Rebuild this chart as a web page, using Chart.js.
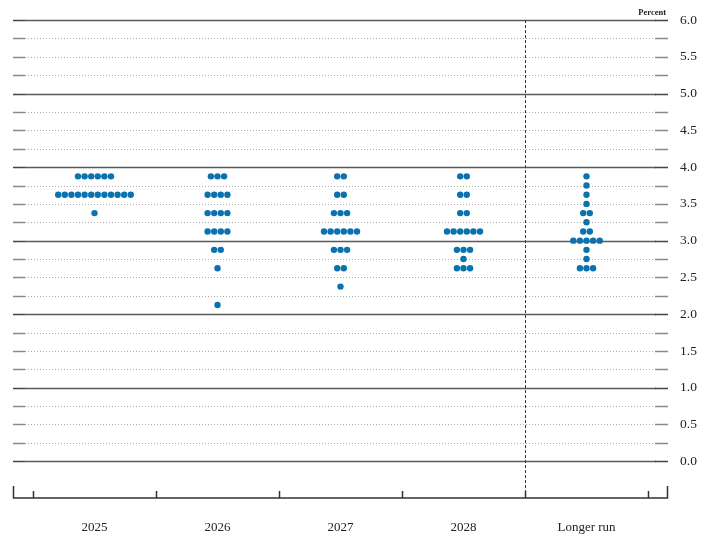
<!DOCTYPE html>
<html>
<head>
<meta charset="utf-8">
<script src="https://cdn.jsdelivr.net/npm/chart.js@4"></script>
<style>
  html, body { margin: 0; padding: 0; background: #fff; }
  #wrap { width: 708px; height: 560px; }
</style>
</head>
<body>
<div id="wrap"><canvas id="dot-plot"></canvas></div>
<script>
// FOMC participants' assessments of appropriate policy rate (midpoints)
const categories = ['2025', '2026', '2027', '2028', 'Longer run'];

const rates2025 = [3.875, 3.625, 3.375];
const counts2025 = [6, 12, 1];

const rates2026 = [3.875, 3.625, 3.375, 3.125, 2.875, 2.625, 2.125];
const counts2026 = [3, 4, 4, 4, 2, 1, 1];

const rates2027 = [3.875, 3.625, 3.375, 3.125, 2.875, 2.625, 2.375];
const counts2027 = [2, 2, 3, 6, 3, 2, 1];

const rates2028 = [3.875, 3.625, 3.375, 3.125, 2.875, 2.75, 2.625];
const counts2028 = [2, 2, 2, 6, 3, 1, 3];

const ratesLonger = [3.875, 3.75, 3.625, 3.5, 3.375, 3.25, 3.125, 3.0, 2.875, 2.75, 2.625];
const countsLonger = [1, 1, 1, 1, 2, 1, 2, 5, 1, 1, 3];

const yTicks = [0, 0.25, 0.5, 0.75, 1, 1.25, 1.5, 1.75, 2, 2.25, 2.5, 2.75, 3, 3.25, 3.5, 3.75,
                4, 4.25, 4.5, 4.75, 5, 5.25, 5.5, 5.75, 6];

const allRates = [rates2025, rates2026, rates2027, rates2028, ratesLonger];
const allCounts = [counts2025, counts2026, counts2027, counts2028, countsLonger];

// spread the dots of one rate side by side around the category centre
const dotGap = 6.6 / 123;
const points = [];
allRates.forEach((rates, i) => {
  rates.forEach((r, k) => {
    const n = allCounts[i][k];
    for (let j = 0; j < n; j++) {
      points.push({ x: i + 0.5 + (j - (n - 1) / 2) * dotGap, y: r });
    }
  });
});

const serif = "'Liberation Serif', 'Times New Roman', serif";

// grid lines, bottom axis and the longer-run divider
const framePlugin = {
  id: 'frame',
  beforeDatasetsDraw(chart) {
    const { ctx, chartArea } = chart;
    const xs = chart.scales.x, ys = chart.scales.y;
    const L = chartArea.left, R = chartArea.right, B = chartArea.bottom, T = chartArea.top;
    ctx.save();
    yTicks.forEach(v => {
      const py = Math.round(ys.getPixelForValue(v)) + 0.5;
      const whole = Number.isInteger(v);
      ctx.lineWidth = whole ? 1.3 : 1;
      ctx.strokeStyle = whole ? '#5a5a5a' : '#aaa';
      ctx.setLineDash(whole ? [] : [1, 2]);
      ctx.beginPath();
      ctx.moveTo(L + 12, py); ctx.lineTo(R - 12, py);
      ctx.stroke();
      ctx.setLineDash([]);
      ctx.strokeStyle = whole ? '#444' : '#8a8a8a';
      ctx.lineWidth = 1.6;
      ctx.beginPath();
      ctx.moveTo(L, py); ctx.lineTo(L + 12, py);
      ctx.moveTo(R - 13, py); ctx.lineTo(R, py);
      ctx.stroke();
    });

    // divider before the longer run
    const dx = Math.round(xs.getPixelForValue(4)) + 0.5;
    ctx.strokeStyle = '#333';
    ctx.lineWidth = 1;
    ctx.setLineDash([3, 2]);
    ctx.beginPath();
    ctx.moveTo(dx, T); ctx.lineTo(dx, B);
    ctx.stroke();
    ctx.setLineDash([]);

    // bottom axis with end brackets and category boundary ticks
    ctx.strokeStyle = '#333';
    ctx.lineWidth = 1.5;
    ctx.beginPath();
    ctx.moveTo(L + 0.5, B - 12); ctx.lineTo(L + 0.5, B);
    ctx.lineTo(R - 0.5, B); ctx.lineTo(R - 0.5, B - 12);
    for (let i = 0; i <= categories.length; i++) {
      const px = Math.round(xs.getPixelForValue(i)) + 0.5;
      ctx.moveTo(px, B); ctx.lineTo(px, B - 7);
    }
    ctx.stroke();

    ctx.fillStyle = '#222';
    ctx.font = 'bold 8.5px ' + serif;
    ctx.textAlign = 'right';
    ctx.textBaseline = 'alphabetic';
    ctx.fillText('Percent', R - 2, T - 5);
    ctx.restore();
  }
};

new Chart(document.getElementById('dot-plot'), {
  type: 'scatter',
  data: {
    datasets: [{
      data: points,
      backgroundColor: '#0a73ae',
      borderColor: '#0a73ae',
      borderWidth: 0,
      pointRadius: 3.2,
      pointHoverRadius: 3.2
    }]
  },
  options: {
    responsive: true,
    maintainAspectRatio: false,
    animation: false,
    layout: { padding: { top: 20, left: 13, right: 0, bottom: 0 } },
    plugins: { legend: { display: false }, tooltip: { enabled: false } },
    scales: {
      x: {
        type: 'linear',
        min: -20 / 123,
        max: 5 + 20 / 123,
        grid: { display: false, drawTicks: false },
        border: { display: false },
        afterBuildTicks: scale => { scale.ticks = categories.map((c, i) => ({ value: i + 0.5 })); },
        afterFit: scale => { scale.height = 62; },
        ticks: {
          autoSkip: false,
          maxRotation: 0,
          padding: 22,
          color: '#222',
          font: { family: serif, size: 13 },
          callback: v => categories[Math.round(v - 0.5)]
        }
      },
      y: {
        position: 'right',
        min: -0.5,
        max: 6,
        grid: { display: false, drawTicks: false },
        border: { display: false },
        afterBuildTicks: scale => { scale.ticks = yTicks.map(v => ({ value: v })); },
        afterFit: scale => { scale.width = 40; },
        ticks: {
          autoSkip: false,
          padding: 12,
          color: '#222',
          font: { family: serif, size: 13.5 },
          callback: v => (Math.abs(v * 2 - Math.round(v * 2)) < 1e-9 ? v.toFixed(1) : '')
        }
      }
    }
  },
  plugins: [framePlugin]
});
</script>
</body>
</html>
